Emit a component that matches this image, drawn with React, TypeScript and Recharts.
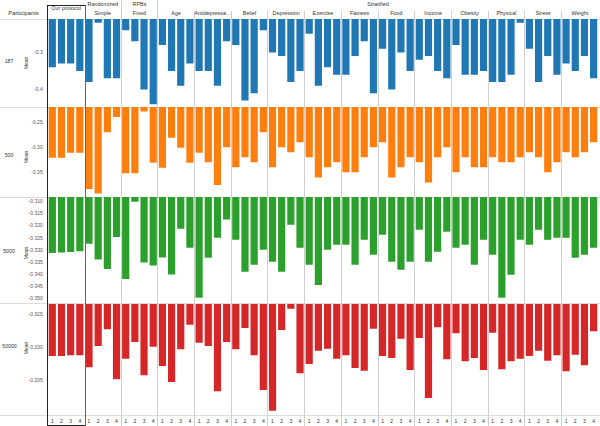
import React from 'react'
import { BarChart, Bar, XAxis, YAxis } from 'recharts'

// columns, in the order they appear across the page
const groups = [
  'Our protocol', 'Simple', 'Fixed', 'Age', 'Antidepressa…', 'Belief', 'Depression',
  'Exercise', 'Fatness', 'Food', 'Income', 'Obesity', 'Physical', 'Stress', 'Weight',
]
const variants = [1, 2, 3, 4]
const participants = ['187', '500', '5000', '50000']

// mean per group x variant (4 values per group)
const mean187 = [
  -0.34, -0.33, -0.33, -0.35,
  -0.38, -0.22, -0.37, -0.37,
  -0.24, -0.27, -0.40, -0.44,
  -0.28, -0.35, -0.39, -0.33,
  -0.35, -0.35, -0.39, -0.27,
  -0.28, -0.43, -0.41, -0.24,
  -0.30, -0.31, -0.38, -0.35,
  -0.25, -0.39, -0.34, -0.36,
  -0.36, -0.31, -0.27, -0.41,
  -0.29, -0.40, -0.30, -0.35,
  -0.32, -0.31, -0.35, -0.37,
  -0.28, -0.36, -0.36, -0.35,
  -0.38, -0.38, -0.36, -0.22,
  -0.29, -0.38, -0.31, -0.36,
  -0.33, -0.35, -0.31, -0.37,
]
const mean500 = [
  -0.321, -0.321, -0.311, -0.311,
  -0.383, -0.392, -0.270, -0.240,
  -0.352, -0.352, -0.229, -0.331,
  -0.341, -0.281, -0.301, -0.331,
  -0.311, -0.330, -0.375, -0.300,
  -0.340, -0.320, -0.330, -0.270,
  -0.340, -0.300, -0.310, -0.290,
  -0.320, -0.360, -0.340, -0.330,
  -0.350, -0.350, -0.320, -0.300,
  -0.290, -0.360, -0.340, -0.320,
  -0.330, -0.370, -0.320, -0.300,
  -0.350, -0.320, -0.340, -0.340,
  -0.320, -0.330, -0.330, -0.320,
  -0.310, -0.320, -0.350, -0.330,
  -0.310, -0.320, -0.310, -0.290,
]
const mean5000 = [
  -0.3313, -0.3310, -0.3308, -0.3305,
  -0.3274, -0.3339, -0.3378, -0.3247,
  -0.3420, -0.3102, -0.3352, -0.3364,
  -0.3331, -0.3401, -0.3213, -0.3291,
  -0.3497, -0.3332, -0.3250, -0.3175,
  -0.3258, -0.3390, -0.3361, -0.3299,
  -0.3349, -0.3390, -0.3196, -0.3291,
  -0.3361, -0.3444, -0.3299, -0.3279,
  -0.3279, -0.3361, -0.3258, -0.3320,
  -0.3237, -0.3349, -0.3382, -0.3349,
  -0.3217, -0.3349, -0.3307, -0.3225,
  -0.3291, -0.3279, -0.3361, -0.3258,
  -0.3320, -0.3497, -0.3402, -0.3258,
  -0.3279, -0.3217, -0.3258, -0.3250,
  -0.3250, -0.3332, -0.3320, -0.3291,
]
const mean50000 = [
  -0.3313, -0.3313, -0.3312, -0.3312,
  -0.3330, -0.3298, -0.3273, -0.3348,
  -0.3317, -0.3292, -0.3342, -0.3299,
  -0.3328, -0.3352, -0.3303, -0.3266,
  -0.3293, -0.3298, -0.3366, -0.3292,
  -0.3303, -0.3271, -0.3312, -0.3364,
  -0.3395, -0.3274, -0.3242, -0.3339,
  -0.3325, -0.3305, -0.3302, -0.3317,
  -0.3312, -0.3331, -0.3335, -0.3272,
  -0.3313, -0.3316, -0.3287, -0.3334,
  -0.3286, -0.3376, -0.3270, -0.3318,
  -0.3279, -0.3321, -0.3316, -0.3334,
  -0.3278, -0.3333, -0.3321, -0.3317,
  -0.3313, -0.3305, -0.3320, -0.3312,
  -0.3336, -0.3311, -0.3327, -0.3276,
]

const ticks187 = [-0.4, -0.3]
const ticks500 = [-0.35, -0.3, -0.25]
const ticks5000 = [-0.35, -0.345, -0.34, -0.335, -0.33, -0.325, -0.32, -0.315, -0.31]
const ticks50000 = [-0.335, -0.33, -0.325]

const FONT = '"Liberation Sans", Arial, Helvetica, sans-serif'
const PLOT_LEFT = 47.7
const COL_W = 36.7
const colLeft = (i: number) => PLOT_LEFT + i * COL_W
const colMid = (i: number) => colLeft(i) + COL_W / 2

const rows = [
  { label: participants[0], values: mean187, ticks: ticks187, domain: [-0.448, -0.21], digits: 1, color: '#1f77b4', top: 19, height: 88.3, labelY: 62 },
  { label: participants[1], values: mean500, ticks: ticks500, domain: [-0.399, -0.22], digits: 2, color: '#ff7f0e', top: 107.3, height: 90, labelY: 156 },
  { label: participants[2], values: mean5000, ticks: ticks5000, domain: [-0.352, -0.3082], digits: 3, color: '#2ca02c', top: 197.3, height: 106.4, labelY: 251.5 },
  { label: participants[3], values: mean50000, ticks: ticks50000, domain: [-0.3403, -0.3235], digits: 3, color: '#d62728', top: 303.7, height: 112, labelY: 347 },
]

function Row({ r, showX }: { r: typeof rows[number]; showX: boolean }) {
  const data = r.values.map((v, k) => ({
    x: Math.floor(k / 4) * 4 + (k % 4) + 0.5,
    variant: variants[k % 4],
    mean: v,
  }))
  return (
    <div style={{ position: 'absolute', left: 0, top: r.top }}>
      <BarChart
        width={600}
        height={r.height + (showX ? 10 : 0)}
        data={data}
        margin={{ top: 0, right: 600 - colLeft(15), bottom: 0, left: 0 }}
        barSize={7.2}
      >
        <XAxis
          type="number"
          dataKey="x"
          domain={[0, 60]}
          ticks={data.map((d) => d.x)}
          tickFormatter={(x: number) => String(variants[Math.floor(x) % 4])}
          interval={0}
          hide={!showX}
          height={10}
          axisLine={false}
          tickLine={false}
          tickSize={2}
          tickMargin={1}
          tick={{ fontSize: 5, fill: '#333', fontFamily: FONT }}
          allowDataOverflow
        />
        <YAxis
          type="number"
          domain={r.domain}
          ticks={r.ticks}
          interval={0}
          width={PLOT_LEFT}
          axisLine={false}
          tickLine={false}
          tickSize={3}
          tickMargin={2}
          tickFormatter={(v: number) => v.toFixed(r.digits)}
          tick={{ fontSize: 5, fill: '#555', fontFamily: FONT }}
          allowDataOverflow
        />
        <Bar dataKey="mean" fill={r.color} isAnimationActive={false} />
      </BarChart>
    </div>
  )
}

const txt = (x: number, y: number, s: string, size = 5.4, extra: React.CSSProperties = {}) => (
  <div
    key={s + x + y}
    style={{
      position: 'absolute', left: x, top: y, transform: 'translate(-50%, -50%)',
      fontSize: size, color: '#333', whiteSpace: 'nowrap', fontFamily: FONT, lineHeight: 1, ...extra,
    }}
  >
    {s}
  </div>
)

export default function App() {
  return (
    <div style={{ position: 'relative', width: 600, height: 426, background: '#fff', overflow: 'hidden', fontFamily: FONT }}>
      <style>{'body{margin:0}'}</style>

      {/* horizontal row rules */}
      {[19, 107.3, 197.3, 303.7, 415.7].map((y) => (
        <div key={y} style={{ position: 'absolute', left: 0, top: y - 0.5, width: 600, height: 1, background: '#ddd' }} />
      ))}

      {/* vertical column rules */}
      {groups.map((g, i) =>
        i >= 2 ? (
          <div key={g} style={{ position: 'absolute', left: colLeft(i) - 0.5, top: i <= 3 ? 0 : 11, width: 1, height: 426, background: '#d0d0d0' }} />
        ) : null
      )}

      {rows.map((r, i) => (
        <Row key={r.label} r={r} showX={i === rows.length - 1} />
      ))}

      {/* header */}
      {txt(23.5, 14, 'Participants', 5.8)}
      {txt(colMid(0), 9, groups[0])}
      {txt(colMid(1), 5.3, 'Randomized')}
      {txt(colMid(2), 5.3, 'RPBs')}
      {txt((colLeft(3) + colLeft(15)) / 2, 5.3, 'Stratified')}
      {groups.slice(1).map((g, i) => txt(colMid(i + 1), 14, g))}

      {/* row labels */}
      {rows.map((r) => (
        <React.Fragment key={r.label}>
          {txt(r.label.length > 4 ? 9.5 : 9, r.labelY, r.label, 5.2)}
          {txt(26, r.labelY + 1, 'Mean', 5, { transform: 'translate(-50%, -50%) rotate(-90deg)' })}
        </React.Fragment>
      ))}

      {/* our protocol frame */}
      <div
        style={{
          position: 'absolute', left: colLeft(0) - 0.7, top: 4.5, width: COL_W + 0.2, height: 419.5,
          borderTop: '1.2px solid #222', borderBottom: '1.2px solid #222', borderLeft: '1.2px solid #222',
          borderRight: '1.8px solid #666',
        }}
      />
    </div>
  )
}
